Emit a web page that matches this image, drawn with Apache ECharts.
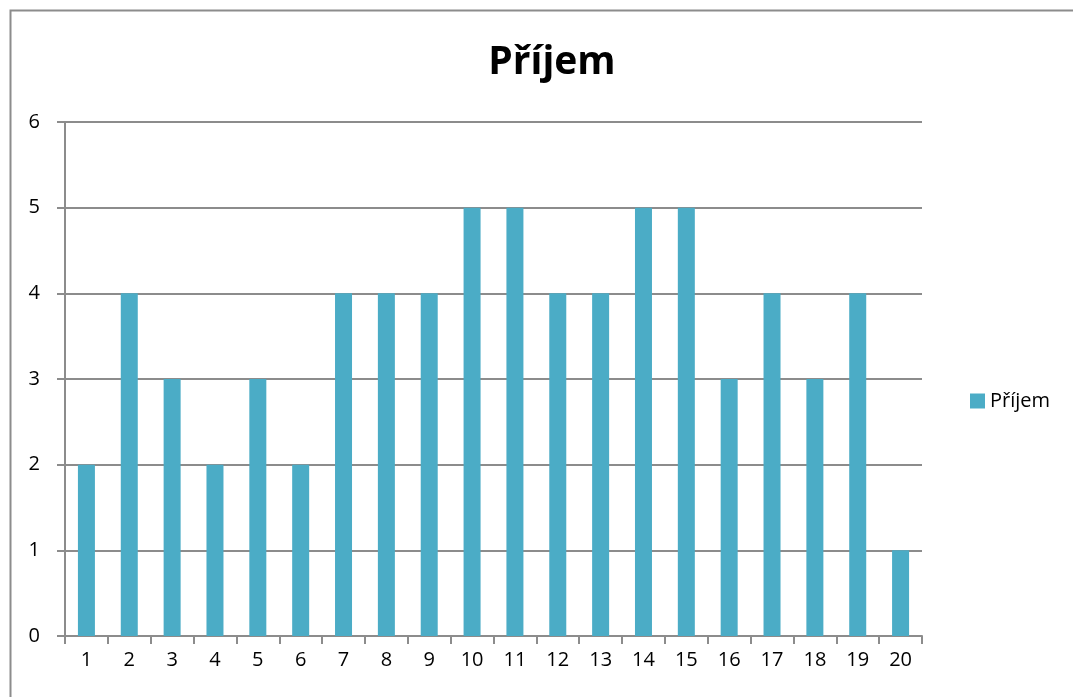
<!DOCTYPE html>
<html lang="cs">
  <head>
    <meta charset="UTF-8" />
    <title>Příjem</title>
    <script src="https://cdn.jsdelivr.net/npm/echarts/dist/echarts.min.js"></script>
    <style>
      html, body { margin: 0; padding: 0; background: #fff; }
      #main { width: 1073px; height: 697px; }
    </style>
  </head>
  <body>
    <div id="main"></div>
    <script>
      const categories = ["1", "2", "3", "4", "5", "6", "7", "8", "9", "10",
        "11", "12", "13", "14", "15", "16", "17", "18", "19", "20"]
      const prijem = [2, 4, 3, 2, 3, 2, 4, 4, 4, 5, 5, 4, 4, 5, 5, 3, 4, 3, 4, 1]
      const seriesName = "Příjem"

      const font = "'Open Sans', 'Noto Sans', sans-serif"
      const chart = echarts.init(document.getElementById("main"))
      chart.setOption({
        animation: false,
        graphic: [{
          type: "rect",
          shape: { x: 10.5, y: 10.5, width: 1100, height: 800 },
          style: { fill: "none", stroke: "#8c8c8c", lineWidth: 2 },
          silent: true
        }],
        title: {
          text: seriesName,
          left: 547, top: 38, textAlign: "center",
          textStyle: { fontFamily: font, fontWeight: "bold", fontSize: 39, color: "#000" }
        },
        legend: {
          data: [seriesName],
          left: 965, top: 386,
          itemWidth: 15, itemHeight: 15, itemGap: 8,
          icon: "rect",
          textStyle: { fontFamily: font, fontSize: 20, color: "#000" }
        },
        grid: { left: 65, right: 151, top: 122, bottom: 61, containLabel: false },
        xAxis: {
          type: "category",
          data: categories,
          axisLine: { lineStyle: { color: "#8c8c8c", width: 2 } },
          axisTick: { show: true, length: 8, lineStyle: { color: "#8c8c8c", width: 2 } },
          axisLabel: { fontFamily: font, fontSize: 20, color: "#000", margin: 14 }
        },
        yAxis: {
          type: "value",
          min: 0, max: 6, interval: 1,
          axisLine: { show: true, lineStyle: { color: "#8c8c8c", width: 2 } },
          axisTick: { show: true, length: 8, lineStyle: { color: "#8c8c8c", width: 2 } },
          axisLabel: { fontFamily: font, fontSize: 20, color: "#000", margin: 25 },
          splitLine: { lineStyle: { color: "#8c8c8c", width: 2 } }
        },
        series: [{
          name: seriesName,
          type: "bar",
          data: prijem,
          barWidth: 17,
          itemStyle: { color: "#4bacc6" }
        }]
      })
    </script>
  </body>
</html>
